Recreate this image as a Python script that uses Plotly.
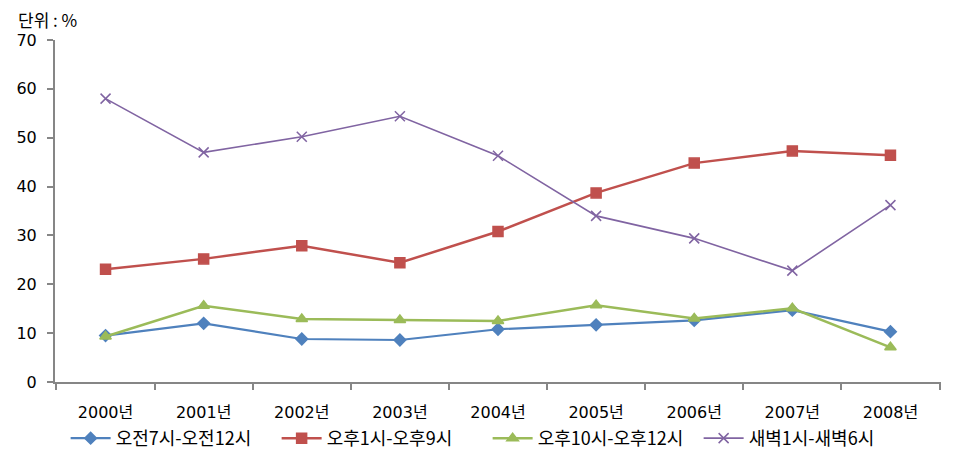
import plotly.graph_objects as go

years = ["2000년", "2001년", "2002년", "2003년", "2004년", "2005년", "2006년", "2007년", "2008년"]
morning = [9.5, 12.0, 8.8, 8.6, 10.8, 11.7, 12.6, 14.7, 10.3]
afternoon = [23.1, 25.2, 27.9, 24.4, 30.8, 38.7, 44.8, 47.3, 46.4]
night = [9.3, 15.6, 12.9, 12.7, 12.5, 15.7, 13.0, 15.1, 7.1]
dawn = [58.0, 47.0, 50.2, 54.4, 46.3, 34.0, 29.4, 22.8, 36.2]

series = [
    ("오전7시-오전12시", morning, "#4F81BD", "diamond", 9, 2.2),
    ("오후1시-오후9시", afternoon, "#C0504D", "square", 10, 2.5),
    ("오후10시-오후12시", night, "#9BBB59", "triangle-up", 10, 2.5),
    ("새벽1시-새벽6시", dawn, "#8064A2", "x-thin", 10, 1.6),
]

FONT = "Verdana, DejaVu Sans, Noto Sans CJK KR, sans-serif"
KFONT = "Noto Sans CJK KR, sans-serif"

fig = go.Figure()
for name, vals, color, sym, size, lw in series:
    fig.add_trace(go.Scatter(
        x=years, y=vals, name=name, mode="lines+markers",
        line=dict(color=color, width=lw),
        marker=dict(symbol=sym, size=size, color=color,
                    line=dict(color=color, width=1.5)),
    ))

# page body has an 8px default margin; figure sized to fit the 958x460 window
fig.update_layout(
    width=950, height=452,
    margin=dict(l=47, r=17, t=32, b=78, autoexpand=False),
    paper_bgcolor="white", plot_bgcolor="white",
    font=dict(family=FONT, size=16, color="#000000"),
    showlegend=True,
    legend=dict(orientation="h", x=0.012, xanchor="left", y=-0.165, yanchor="middle",
                font=dict(family=KFONT, size=18, color="#000000"),
                itemwidth=40, tracegroupgap=0, entrywidth=156, entrywidthmode="pixels"),
    annotations=[dict(text="단위 : %", xref="paper", yref="paper", x=-0.044, y=1.06,
                      xanchor="left", yanchor="middle", showarrow=False,
                      font=dict(family=KFONT, size=17, color="#000000"))],
)
fig.update_xaxes(
    type="category", showline=True, linecolor="#868686", linewidth=2,
    ticks="outside", tickson="boundaries", ticklen=6, tickcolor="#868686", tickwidth=2,
    showgrid=False, ticklabelstandoff=15, automargin=False,
    tickfont=dict(family=FONT, size=16, color="#000000"),
)
fig.update_yaxes(
    range=[0, 70], dtick=10, showline=True, linecolor="#868686", linewidth=2,
    ticks="outside", ticklen=6, tickcolor="#868686", tickwidth=2,
    showgrid=False, zeroline=False, automargin=False, ticklabelstandoff=7,
    tickfont=dict(family=FONT, size=16, color="#000000"),
)

fig.write_html("out.html")
